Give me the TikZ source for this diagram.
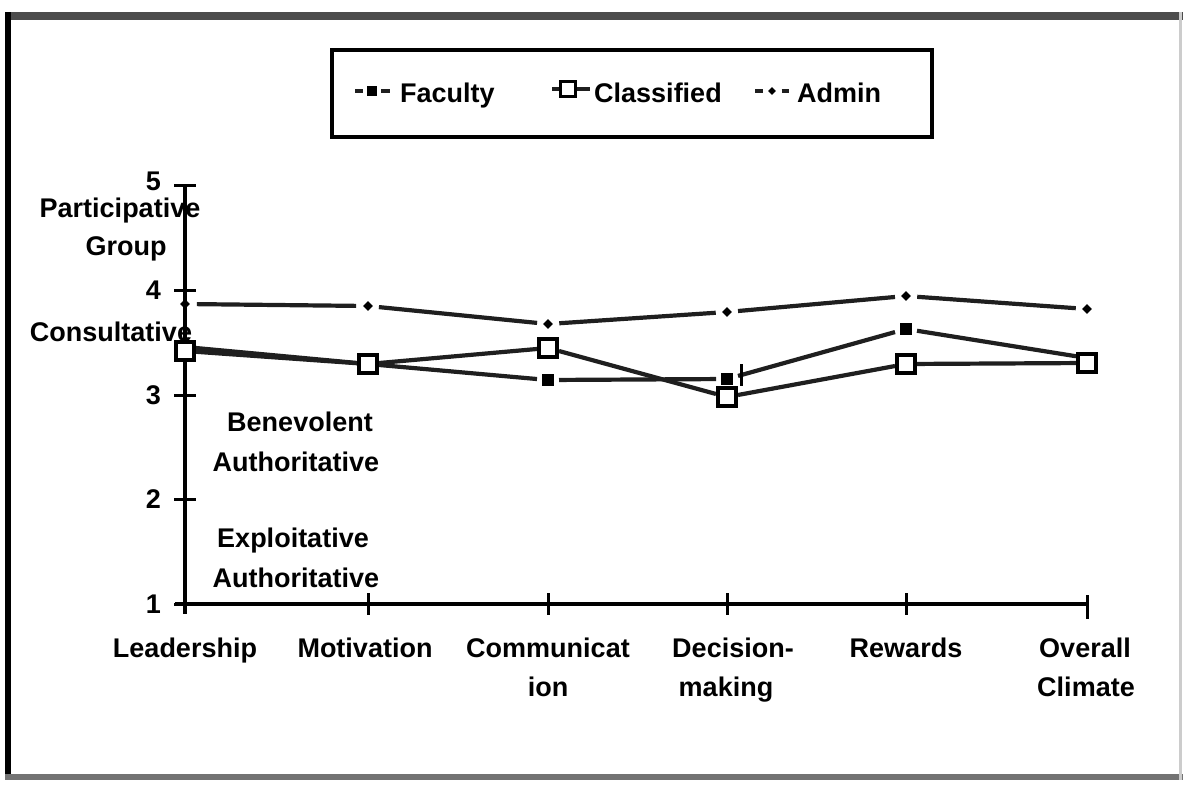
\documentclass[tikz,border=0pt]{standalone}
\usepackage{fontspec}
\setmainfont{Liberation Sans}
\usetikzlibrary{shapes.geometric}
\pgfdeclarelayer{bg}
\pgfsetlayers{bg,main}
\begin{document}
\begin{tikzpicture}[x=1pt,y=-1pt,
  every node/.style={inner sep=0pt},
  txt/.style={font=\fontsize{27}{40}\selectfont\bfseries},
  lbl/.style={txt,anchor=base},
  num/.style={txt,anchor=east},
  axisline/.style={line width=3.4pt,black},
  tickline/.style={line width=3pt,black},
  dataline/.style={line width=4.2pt,black!88},
  admk/.style={diamond,fill=black,minimum size=14pt,outer sep=5pt},
  famk/.style={rectangle,fill=black,minimum size=12pt,outer sep=5pt},
  clmk/.style={rectangle,draw=black,line width=4pt,fill=white,minimum size=18pt},
  legmk/.style={line width=4pt,black!88}
]
\useasboundingbox (0,0) rectangle (1188,784);
% outer frame
\fill[black!70] (5,12) rectangle (1183,20);
\fill[black] (5,12) rectangle (11,779);
\fill[black!55] (5,774) rectangle (1183,780);
\fill[black!20] (1179,12) rectangle (1182,780);

% legend box
\draw[line width=3.2pt] (332,50) rectangle (932,137);
\coordinate (lf1) at (355,91); \coordinate (lf2) at (390,91);
\node[famk,minimum size=10pt,outer sep=4pt] (lfm) at (372,91) {};
\draw[legmk] (lf1) -- (lfm); \draw[legmk] (lfm) -- (lf2);
\node[txt,anchor=base west] (lft) at (400,102) {Faculty};
\coordinate (lc1) at (552,89); \coordinate (lc2) at (590,89);
\node[clmk,minimum size=15pt,line width=3.6pt] (lcm) at (568,89) {};
\draw[legmk] (lc1) -- (lcm); \draw[legmk] (lcm) -- (lc2);
\node[txt,anchor=base west] (lct) at (594,102) {Classified};
\coordinate (la1) at (755,91); \coordinate (la2) at (789,91);
\node[admk,minimum size=11pt,outer sep=4pt] (lam) at (772,91) {};
\draw[legmk] (la1) -- (lam); \draw[legmk] (lam) -- (la2);
\node[txt,anchor=base west] (lat) at (797,102) {Admin};

% axes
\draw[axisline] (185,185) -- (185,614);
\draw[axisline] (175,604) -- (1087,604);
\foreach \yy in {185,290,395,499,604}{\draw[tickline] (174,\yy) -- (196,\yy);}
\foreach \xx in {368,548,727,906}{\draw[tickline] (\xx,593) -- (\xx,615);}
\draw[tickline] (1087,595) -- (1087,619);

% axis numbers
\node[num] (n5) at (161,181) {5};
\node[num] (n4) at (161,290) {4};
\node[num] (n3) at (161,395) {3};
\node[num] (n2) at (161,499) {2};
\node[num] (n1) at (161,604) {1};

% style labels
\node[lbl] (p1) at (120,217) {Participative};
\node[lbl] (p2) at (126,255) {Group};
\node[lbl] (cs) at (111,341) {Consultative};
\node[lbl] (b1) at (300,431) {Benevolent};
\node[lbl] (b2) at (296,471) {Authoritative};
\node[lbl] (e1) at (293,547) {Exploitative};
\node[lbl] (e2) at (296,587) {Authoritative};

% category labels
\node[lbl] (x1) at (185,657) {Leadership};
\node[lbl] (x2) at (365,657) {Motivation};
\node[lbl] (x3) at (548,657) {Communicat};
\node[lbl] (x3b) at (548,696) {ion};
\node[lbl] (x4) at (733,657) {Decision-};
\node[lbl] (x4b) at (726,696) {making};
\node[lbl] (x5) at (906,657) {Rewards};
\node[lbl] (x6) at (1085,657) {Overall};
\node[lbl] (x6b) at (1086,696) {Climate};

% Faculty markers
\node[famk] (f1) at (185,347) {};
\node[famk] (f2) at (368,364) {};
\node[famk] (f3) at (548,380) {};
\node[famk] (f4) at (727,379) {};
\node[famk] (f5) at (906,329) {};
\node[famk] (f6) at (1087,358) {};
% Admin markers
\node[admk] (a1) at (185,304) {};
\node[admk] (a2) at (368,306) {};
\node[admk] (a3) at (548,324) {};
\node[admk] (a4) at (727,312) {};
\node[admk] (a5) at (906,296) {};
\node[admk] (a6) at (1087,309) {};
% Classified markers
\node[clmk] (c1) at (185,351) {};
\node[clmk] (c2) at (368,364) {};
\node[clmk] (c3) at (548,348) {};
\node[clmk] (c4) at (727,397) {};
\node[clmk] (c5) at (906,364) {};
\node[clmk] (c6) at (1087,363) {};

\begin{pgfonlayer}{bg}
\draw[dataline] (f1) -- (f2) -- (f3) -- (f4) -- (f5) -- (f6);
\draw[dataline] (a1) -- (a2) -- (a3) -- (a4) -- (a5) -- (a6);
\draw[dataline] (c1) -- (c2) -- (c3) -- (c4) -- (c5) -- (c6);
\draw[tickline] (f4.north east) ++(3,-4) -- ++(0,22);
\end{pgfonlayer}
\end{tikzpicture}
\end{document}
